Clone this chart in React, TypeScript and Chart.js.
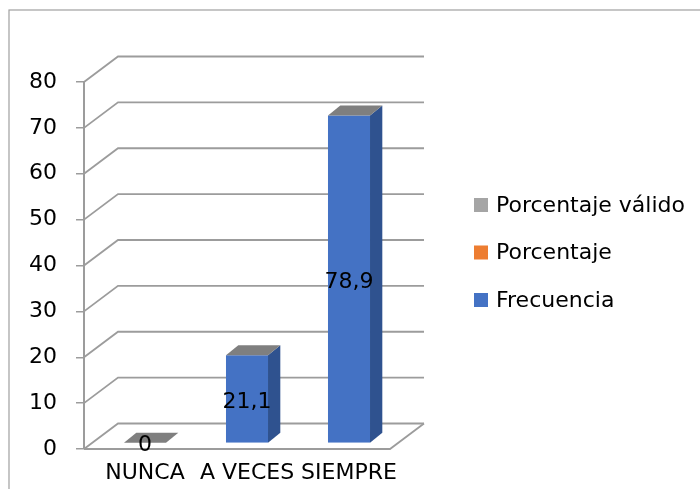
import React, { useEffect, useRef } from "react";
import { Chart, registerables } from "chart.js";

Chart.register(...registerables);

// ---- data ----
const categories = ["NUNCA", "A VECES", "SIEMPRE"];
const frecuencia = [0, 21.1, 78.9];
const porcentaje: number[] = [];
const porcentajeValido: number[] = [];
const seriesNames = ["Frecuencia", "Porcentaje", "Porcentaje válido"];
const seriesColors = ["#4472C4", "#ED7D31", "#A5A5A5"];
const yMin = 0;
const yMax = 80;
const yStep = 10;

// ---- styling / projection ----
const FONT = "'DejaVu Sans', sans-serif";
const FS = 22;
const GRID = "#9c9c9c";
const DX = 34; // wall depth (x)
const DY = 25.5; // wall depth (y)
const BX = 10; // bar plane offset
const BY = 6.3;
const BDX = 12.3; // bar depth
const BDY = 10;
const SIDE = "#2f528f";
const TOP = "#7f7f7f";

const fmt = (v: number) => String(v).replace(".", ",");

const framePlugin = {
  id: "frame",
  beforeDraw(chart: any) {
    const ctx = chart.ctx;
    ctx.save();
    ctx.fillStyle = "#ffffff";
    ctx.fillRect(0, 0, chart.width, chart.height);
    ctx.strokeStyle = "#a0a0a0";
    ctx.lineWidth = 1.2;
    ctx.strokeRect(9, 10, chart.width + 40, chart.height + 40);
    ctx.restore();
  },
};

const wallsPlugin = {
  id: "walls",
  beforeDatasetsDraw(chart: any) {
    const { ctx, chartArea, scales } = chart;
    const { left, right } = chartArea;
    const y = scales.y;
    ctx.save();
    ctx.strokeStyle = GRID;
    ctx.lineWidth = 1.8;
    y.ticks.forEach((t: any) => {
      const py = y.getPixelForValue(t.value);
      ctx.beginPath();
      ctx.moveTo(left, py);
      ctx.lineTo(left + DX, py - DY);
      ctx.lineTo(right + DX, py - DY);
      ctx.stroke();
    });
    const y0 = y.getPixelForValue(yMin);
    ctx.beginPath();
    ctx.moveTo(left, y0);
    ctx.lineTo(right, y0);
    ctx.lineTo(right + DX, y0 - DY);
    ctx.stroke();
    ctx.restore();
    // move the bar plane into depth
    ctx.save();
    ctx.translate(BX, -BY);
  },
  afterDatasetsDraw(chart: any) {
    const ctx = chart.ctx;
    const meta = chart.getDatasetMeta(0);
    const values = chart.data.datasets[0].data as number[];
    meta.data.forEach((el: any, i: number) => {
      const { x, y, base, width } = el.getProps(["x", "y", "base", "width"], true);
      const l = x - width / 2;
      const r = x + width / 2;
      if (base - y > 0.5) {
        ctx.fillStyle = SIDE;
        ctx.beginPath();
        ctx.moveTo(r, y);
        ctx.lineTo(r + BDX, y - BDY);
        ctx.lineTo(r + BDX, base - BDY);
        ctx.lineTo(r, base);
        ctx.closePath();
        ctx.fill();
      }
      ctx.fillStyle = TOP;
      ctx.beginPath();
      ctx.moveTo(l, y);
      ctx.lineTo(l + BDX, y - BDY);
      ctx.lineTo(r + BDX, y - BDY);
      ctx.lineTo(r, y);
      ctx.closePath();
      ctx.fill();
      ctx.fillStyle = "#000";
      ctx.font = `${FS}px ${FONT}`;
      ctx.textAlign = "center";
      ctx.textBaseline = "middle";
      ctx.fillText(fmt(values[i]), x, (y + base) / 2 + 3);
    });
    ctx.restore();
  },
};

const legendPlugin = {
  id: "customLegend",
  afterDraw(chart: any) {
    const ctx = chart.ctx;
    const ds = chart.data.datasets.slice().reverse();
    ctx.save();
    ctx.font = `${FS}px ${FONT}`;
    ctx.textAlign = "left";
    ctx.textBaseline = "middle";
    ds.forEach((d: any, i: number) => {
      const cy = 205 + i * 47.5;
      ctx.fillStyle = d.backgroundColor;
      ctx.fillRect(474, cy - 7, 14, 14);
      ctx.fillStyle = "#000";
      ctx.fillText(d.label, 496, cy + 1);
    });
    ctx.restore();
  },
};

export default function App() {
  const ref = useRef<HTMLCanvasElement | null>(null);
  useEffect(() => {
    if (!ref.current) return;
    const chart = new Chart(ref.current, {
      type: "bar",
      data: {
        labels: categories,
        datasets: [
          {
            label: seriesNames[0],
            data: frecuencia,
            backgroundColor: seriesColors[0],
            yAxisID: "yb",
            grouped: false,
            barPercentage: 0.412,
            categoryPercentage: 1,
          },
          {
            label: seriesNames[1],
            data: porcentaje,
            backgroundColor: seriesColors[1],
            yAxisID: "yb",
            grouped: false,
          },
          {
            label: seriesNames[2],
            data: porcentajeValido,
            backgroundColor: seriesColors[2],
            yAxisID: "yb",
            grouped: false,
          },
        ] as any,
      },
      options: {
        responsive: false,
        animation: false,
        layout: { padding: { left: 0, top: 82, right: 310, bottom: 0 } },
        plugins: {
          legend: { display: false },
          tooltip: { enabled: false },
          title: { display: false },
        },
        scales: {
          x: {
            grid: { display: false },
            border: { display: false },
            ticks: {
              font: { family: FONT, size: FS },
              color: "#000",
              padding: 3,
              labelOffset: 10,
              maxRotation: 0,
              minRotation: 0,
              autoSkip: false,
            },
            afterFit: (s: any) => {
              s.height = 40;
            },
          },
          y: {
            min: yMin,
            max: yMax,
            ticks: {
              stepSize: yStep,
              font: { family: FONT, size: FS },
              color: "#000",
              padding: 19,
            },
            grid: {
              drawOnChartArea: false,
              drawTicks: true,
              tickLength: 8,
              color: GRID,
              lineWidth: 1.5,
            },
            border: { display: true, color: GRID, width: 2 },
            afterFit: (s: any) => {
              s.width = 84;
            },
          },
          yb: {
            display: false,
            min: 0,
            max: 88.5,
          },
        },
      } as any,
      plugins: [framePlugin, wallsPlugin, legendPlugin],
    });
    return () => chart.destroy();
  }, []);
  return (
    <div style={{ position: "absolute", left: 0, top: 0, width: 700, height: 489 }}>
      <canvas ref={ref} width={700} height={489} style={{ display: "block" }} />
    </div>
  );
}
